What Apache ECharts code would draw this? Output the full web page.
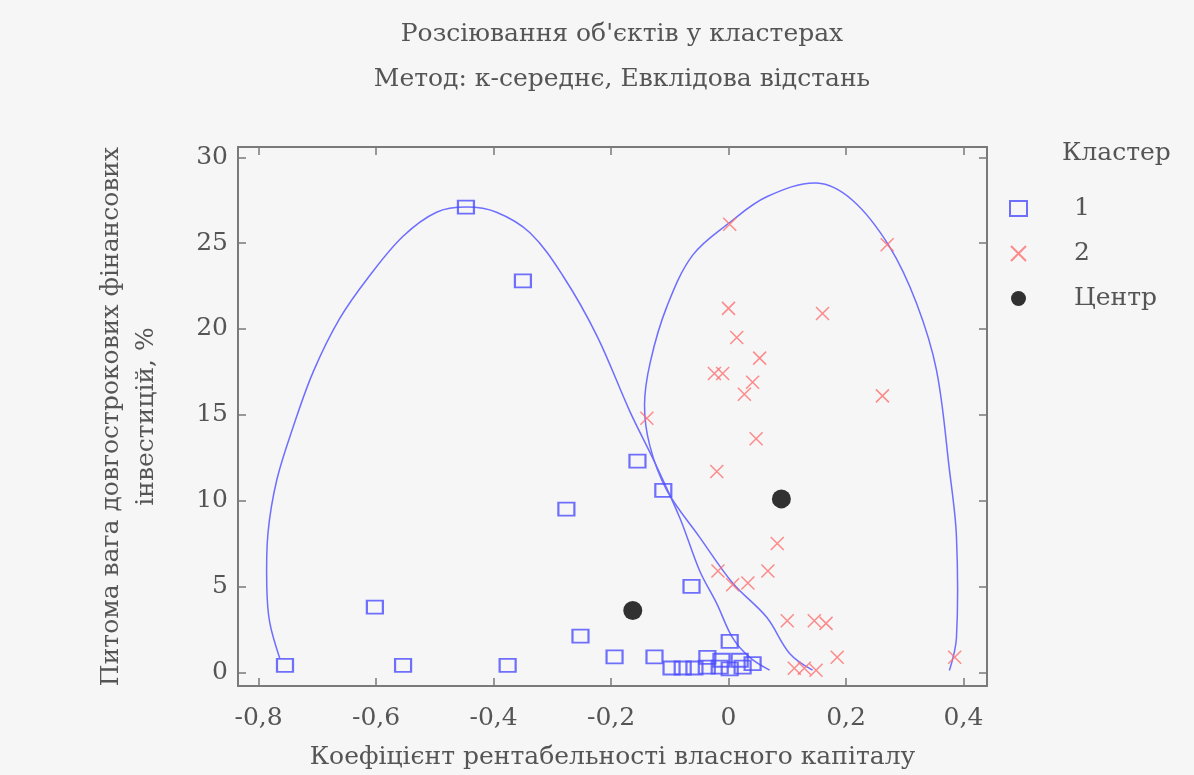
<!DOCTYPE html>
<html>
<head>
<meta charset="utf-8">
<script src="https://cdn.jsdelivr.net/npm/echarts@6/dist/echarts.min.js"></script>
<style>
  html, body { margin: 0; padding: 0; background: #f6f6f6; }
  #chart { width: 1194px; height: 775px; }
</style>
</head>
<body>
<div id="chart"></div>
<script>
const TITLE_LINES = ["Розсіювання об'єктів у кластерах", 'Метод: к-середнє, Евклідова відстань'];
const X_NAME = 'Коефіцієнт рентабельності власного капіталу';
const Y_NAME = 'Питома вага довгострокових фінансових\nінвестицій, %';
const LEGEND_TITLE = 'Кластер';

// кластер 1 (квадрати)
const cluster1Points = [
  [-0.755, 0.4], [-0.602, 3.8], [-0.554, 0.4], [-0.376, 0.4], [-0.447, 27.1],
  [-0.350, 22.8], [-0.276, 9.5], [-0.252, 2.1], [-0.194, 0.9], [-0.155, 12.3],
  [-0.126, 0.9], [-0.111, 10.6], [-0.063, 5.0], [0.002, 1.8], [-0.097, 0.25],
  [-0.078, 0.25], [-0.058, 0.25], [-0.037, 0.3], [-0.036, 0.87], [-0.012, 0.7],
  [0.019, 0.7], [0.041, 0.5], [0.024, 0.3], [0.002, 0.2], [-0.015, 0.3],
];
// кластер 2 (хрестики)
const cluster2Points = [
  [0.002, 26.1], [0.270, 24.9], [0.0, 21.2], [0.160, 20.9], [0.014, 19.5],
  [0.053, 18.3], [-0.024, 17.4], [-0.010, 17.4], [0.041, 16.9], [0.027, 16.2],
  [0.262, 16.1], [0.047, 13.6], [-0.139, 14.8], [-0.020, 11.7], [0.083, 7.5],
  [-0.018, 5.9], [0.007, 5.1], [0.033, 5.2], [0.067, 5.9], [0.100, 3.0],
  [0.146, 3.0], [0.166, 2.85], [0.185, 0.87], [0.112, 0.23], [0.129, 0.23],
  [0.149, 0.12], [0.385, 0.87],
];
const centerPoints = [[-0.163, 3.6], [0.090, 10.1]];

// контури кластерів
const hull1Points = [
  [-0.764, 0.82], [-0.781, 2.9], [-0.786, 5.0], [-0.784, 8.1], [-0.769, 11.2],
  [-0.741, 14.3], [-0.707, 17.5], [-0.662, 20.6], [-0.611, 23.1], [-0.554, 25.4],
  [-0.497, 26.8], [-0.446, 27.1], [-0.395, 26.8], [-0.338, 25.6], [-0.282, 23.1],
  [-0.224, 19.6], [-0.168, 15.2], [-0.128, 12.4], [-0.083, 9.0],
  [-0.049, 5.9], [-0.020, 4.0], [0.007, 2.0], [0.036, 0.87], [0.070, 0.12],
];
const hull2Points = [
  [0.143, 0.12], [0.104, 1.1], [0.065, 3.2], [0.007, 5.2], [-0.049, 7.86],
  [-0.105, 10.6], [-0.134, 13.2], [-0.143, 15.6], [-0.133, 18.1], [-0.105, 21.3],
  [-0.061, 24.3], [0.002, 26.2], [0.065, 27.7], [0.150, 28.5], [0.211, 27.5],
  [0.274, 24.8], [0.320, 21.5], [0.354, 17.6], [0.376, 11.8], [0.388, 7.9],
  [0.388, 2.0], [0.376, 0.1],
];

const X_MIN = -0.835, X_MAX = 0.44, X_STEP = 0.2;
const Y_MIN = -0.8, Y_MAX = 30.6, Y_STEP = 5;

const FONT = 'DejaVu Serif';
const FONT_SIZE = 25;
const TEXT_COLOR = '#555';
const FRAME_COLOR = '#7a7a7a';
const BLUE = '#4d4dff';
const RED = '#ff6f6f';
const HULL = '#6e6eff';

const isStep = (v, step) => Math.abs(v / step - Math.round(v / step)) < 1e-6;
const fmt = v => String(Math.round(v * 10) / 10).replace('.', ',');

const frameAxis = (extra) => Object.assign({
  type: 'value',
  axisLine: { show: true, onZero: false, lineStyle: { color: FRAME_COLOR, width: 2 } },
  axisTick: { show: true, inside: true, length: 8, lineStyle: { color: FRAME_COLOR, width: 1.5 } },
  splitLine: { show: false },
}, extra);

// контур малюється одним гладким polyline через точки, перераховані через осі
const hullSeries = (name, points) => ({
  name,
  type: 'custom',
  data: points,
  silent: true,
  z: 1,
  renderItem: (params, api) => {
    if (params.dataIndex !== 0) return;
    return {
      type: 'polyline',
      shape: { points: points.map(p => api.coord(p)), smooth: 0.35 },
      style: { stroke: HULL, lineWidth: 1.5, fill: null },
    };
  },
});

const chart = echarts.init(document.getElementById('chart'), null, { renderer: 'canvas' });

const option = {
  backgroundColor: '#f6f6f6',
  animation: false,
  title: [
    {
      text: TITLE_LINES.join('\n'),
      left: 617,
      textAlign: 'center',
      top: 7,
      textStyle: { fontFamily: FONT, fontWeight: 'normal', fontSize: FONT_SIZE, lineHeight: 45, color: TEXT_COLOR },
    },
    {
      text: LEGEND_TITLE,
      left: 1057,
      top: 136,
      textStyle: { fontFamily: FONT, fontWeight: 'normal', fontSize: FONT_SIZE, color: TEXT_COLOR },
    },
  ],
  legend: {
    data: ['1', '2', 'Центр'],
    orient: 'vertical',
    left: 1004,
    top: 191,
    itemWidth: 17,
    itemHeight: 15,
    itemGap: 20,
    textStyle: { fontFamily: FONT, fontSize: FONT_SIZE, color: TEXT_COLOR, padding: [0, 0, 0, 42] },
  },
  grid: { left: 238, right: 207, top: 147, bottom: 89 },
  xAxis: [
    frameAxis({
      position: 'bottom',
      min: X_MIN, max: X_MAX, minInterval: X_STEP, maxInterval: X_STEP,
      name: X_NAME, nameLocation: 'middle', nameGap: 59,
      nameTextStyle: { fontFamily: FONT, fontSize: FONT_SIZE, color: TEXT_COLOR },
      axisLabel: {
        margin: 20, fontFamily: FONT, fontSize: FONT_SIZE, color: TEXT_COLOR,
        showMinLabel: false, showMaxLabel: false,
        formatter: v => (isStep(v, X_STEP) ? fmt(v) : ''),
      },
    }),
    frameAxis({
      position: 'top',
      min: X_MIN, max: X_MAX, minInterval: X_STEP, maxInterval: X_STEP,
      axisLabel: { show: false },
    }),
  ],
  yAxis: [
    frameAxis({
      position: 'left',
      min: Y_MIN, max: Y_MAX, minInterval: Y_STEP, maxInterval: Y_STEP,
      name: Y_NAME, nameLocation: 'middle', nameGap: 74, nameRotate: 90,
      nameTextStyle: { fontFamily: FONT, fontSize: FONT_SIZE, lineHeight: 35, color: TEXT_COLOR },
      axisLabel: {
        margin: 10, fontFamily: FONT, fontSize: FONT_SIZE, color: TEXT_COLOR,
        showMinLabel: false, showMaxLabel: false,
        formatter: v => (isStep(v, Y_STEP) ? String(Math.round(v)) : ''),
      },
    }),
    frameAxis({
      position: 'right',
      min: Y_MIN, max: Y_MAX, minInterval: Y_STEP, maxInterval: Y_STEP,
      axisLabel: { show: false },
    }),
  ],
  series: [
    hullSeries('hull1', hull1Points),
    hullSeries('hull2', hull2Points),
    {
      name: '1',
      type: 'scatter',
      data: cluster1Points,
      symbol: 'rect',
      symbolSize: [16, 13],
      itemStyle: { color: 'transparent', borderColor: BLUE, borderWidth: 2 },
      z: 3,
    },
    {
      name: '2',
      type: 'scatter',
      data: cluster2Points,
      symbol: 'path://M0,0L10,10M10,0L0,10',
      symbolSize: 13,
      itemStyle: { color: 'transparent', borderColor: RED, borderWidth: 1.5 },
      z: 3,
    },
    {
      name: 'Центр',
      type: 'scatter',
      data: centerPoints,
      symbol: 'circle',
      symbolSize: 19,
      itemStyle: { color: '#000' },
      z: 4,
    },
  ],
};

chart.setOption(option);
window.addEventListener('resize', chart.resize);
</script>
</body>
</html>
